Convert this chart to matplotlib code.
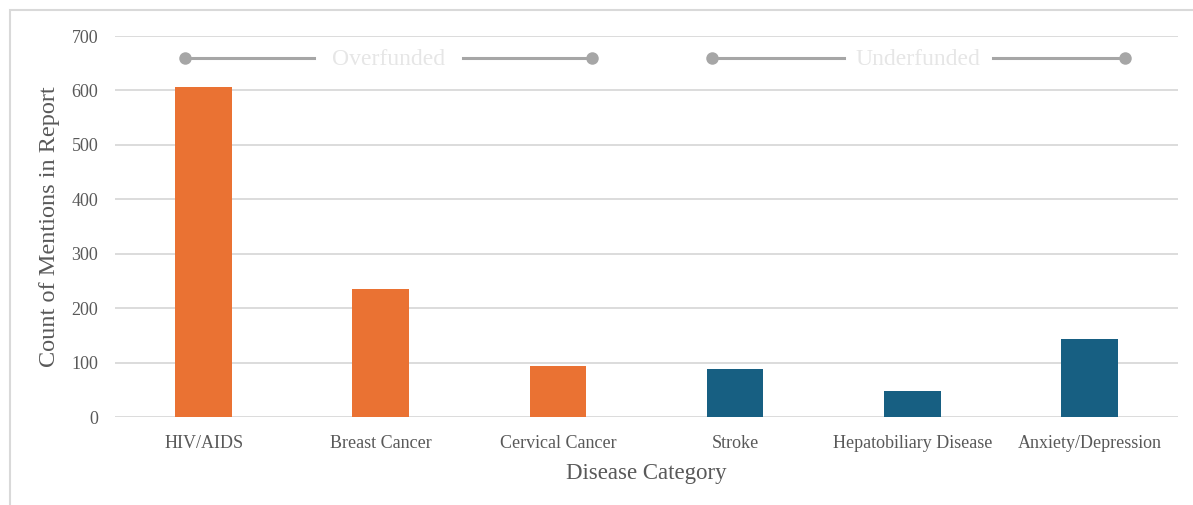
import matplotlib
matplotlib.use("Agg")
import matplotlib.pyplot as plt
from matplotlib.patches import Rectangle

# -------------------------------------------------
# Data
# -------------------------------------------------
categories = [
    "HIV/AIDS", "Breast Cancer", "Cervical Cancer",
    "Stroke", "Hepatobiliary Disease", "Anxiety/Depression",
]
mentions = [607, 236, 94, 88, 48, 144]
groups = ["over", "over", "over", "under", "under", "under"]

bracket_labels = ["Overfunded", "Underfunded"]
bracket_spans = [(-0.105, 2.195), (2.867, 5.2)]
bracket_y = 660

colors = {"over": "#ea7233", "under": "#175f82"}
text_gray = "#595959"

plt.rcParams["font.family"] = ["Liberation Serif", "DejaVu Serif"]

fig = plt.figure(figsize=(11.93, 5.05), dpi=100)
ax = fig.add_axes([115 / 1193, 88 / 505, 1063 / 1193, 381 / 505])

x = list(range(len(categories)))
ax.bar(x, mentions, width=0.32, color=[colors[g] for g in groups], zorder=3)

ax.set_xlim(-0.5, len(categories) - 0.5)
ax.set_ylim(0, 700)
ax.set_yticks(range(0, 701, 100))
ax.set_xticks(x)
ax.set_xticklabels(categories)
ax.tick_params(axis="both", length=0, labelsize=13, colors=text_gray)
ax.tick_params(axis="x", pad=13)
ax.tick_params(axis="y", pad=12)
ax.yaxis.grid(True, color="#d9d9d9", linewidth=1.3, zorder=0)
for s in ax.spines.values():
    s.set_visible(False)

ax.set_xlabel("Disease Category", fontsize=16.5, color=text_gray, labelpad=8)
ax.set_ylabel("Count of Mentions in Report", fontsize=17.5, color=text_gray,
              labelpad=8)

# -------------------------------------------------
# Funding brackets
# -------------------------------------------------
for label, (x0, x1) in zip(bracket_labels, bracket_spans):
    mid = (x0 + x1) / 2
    gap = 0.42
    ax.plot([x0, mid - gap], [bracket_y, bracket_y], color="#a6a6a6",
            linewidth=2.2, zorder=4, clip_on=False)
    ax.plot([mid + gap, x1], [bracket_y, bracket_y], color="#a6a6a6",
            linewidth=2.2, zorder=4, clip_on=False)
    ax.plot([x0, x1], [bracket_y, bracket_y], linestyle="none", marker="o",
            markersize=9, markeredgewidth=0, color="#a6a6a6", zorder=5,
            clip_on=False)
    ax.text(mid, bracket_y - 4, label, ha="center", va="center", fontsize=17,
            color="#e6e6e6", zorder=5)

# outer frame
fig.patches.append(Rectangle((10 / 1193, -0.1), 1.2, (505 - 10) / 505 + 0.1,
                             transform=fig.transFigure, fill=False,
                             edgecolor="#d9d9d9", linewidth=1.5))

fig.savefig("out.png", dpi=100)
